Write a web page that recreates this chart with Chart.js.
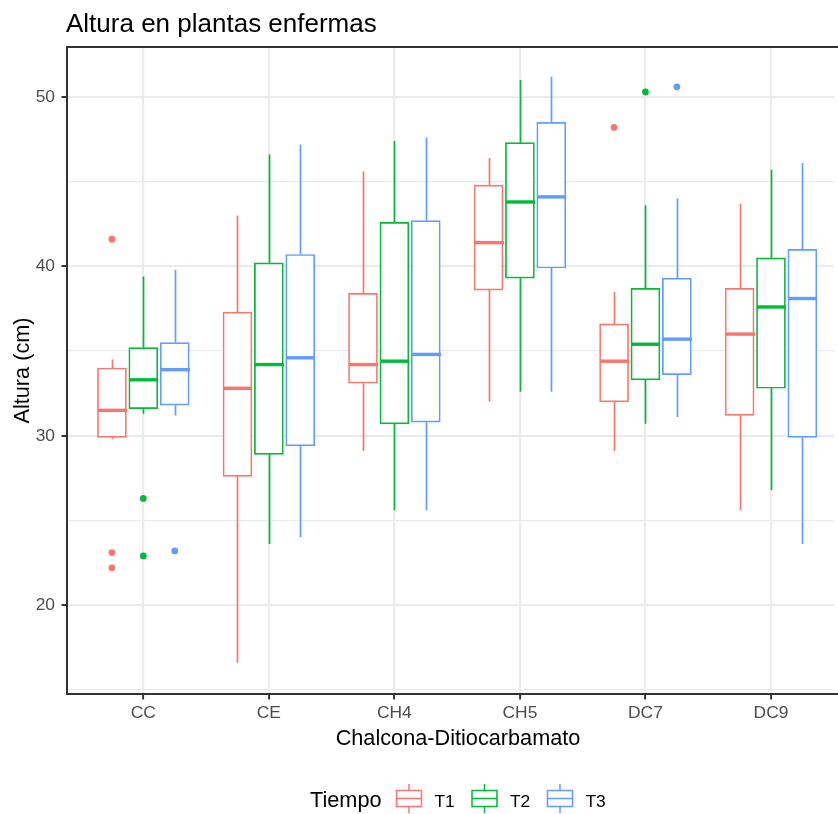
<!DOCTYPE html>
<html>
<head>
<meta charset="utf-8">
<script src="https://cdn.jsdelivr.net/npm/chart.js@4"></script>
<style>
html, body { margin: 0; padding: 0; background: #fff; overflow: hidden; }
canvas { display: block; }
</style>
</head>
<body>
<canvas id="myChart" width="838" height="814"></canvas>
<script>
/* Boxplot data */
const categories = ['CC', 'CE', 'CH4', 'CH5', 'DC7', 'DC9'];
const groups = ['T1', 'T2', 'T3'];
const groupColors = ['#F8766D', '#00BA38', '#619CFF'];

// [lower whisker, Q1, median, Q3, upper whisker] for each category
const t1Box = [
    [29.8, 29.9, 31.5, 34.0, 34.5],
    [16.6, 27.6, 32.8, 37.3, 43.0],
    [29.1, 33.1, 34.2, 38.4, 45.6],
    [32.0, 38.6, 41.4, 44.8, 46.4],
    [29.1, 32.0, 34.4, 36.6, 38.5],
    [25.6, 31.2, 36.0, 38.7, 43.7]
];
const t2Box = [
    [31.3, 31.6, 33.3, 35.2, 39.4],
    [23.6, 28.9, 34.2, 40.2, 46.6],
    [25.6, 30.7, 34.4, 42.6, 47.4],
    [32.6, 39.3, 43.8, 47.3, 51.0],
    [30.7, 33.3, 35.4, 38.7, 43.6],
    [26.8, 32.8, 37.6, 40.5, 45.7]
];
const t3Box = [
    [31.2, 31.8, 33.9, 35.5, 39.8],
    [24.0, 29.4, 34.6, 40.7, 47.2],
    [25.6, 30.8, 34.8, 42.7, 47.6],
    [32.6, 39.9, 44.1, 48.5, 51.2],
    [31.1, 33.6, 35.7, 39.3, 44.0],
    [23.6, 29.9, 38.1, 41.0, 46.1]
];

// outliers: [category, value]
const t1Outliers = [['CC', 41.6], ['CC', 23.1], ['CC', 22.2], ['DC7', 48.2]];
const t2Outliers = [['CC', 26.3], ['CC', 22.9], ['DC7', 50.3]];
const t3Outliers = [['CC', 23.2], ['DC7', 50.6]];

const yTicks = [15, 20, 25, 30, 35, 40, 45, 50];

const boxes = [t1Box, t2Box, t3Box];
const outliers = [t1Outliers, t2Outliers, t3Outliers];
const dodge = [-0.25, 0, 0.25];
const fontFamily = '"Liberation Sans", Arial, sans-serif';

const datasets = [];
groups.forEach((g, k) => {
    datasets.push({
        type: 'bar',
        label: g,
        data: boxes[k].map((r, i) => ({ x: i + 1 + dodge[k], y: [r[1], r[3]] })),
        backgroundColor: '#ffffff',
        borderColor: groupColors[k],
        borderWidth: 1.7,
        borderSkipped: false,
        barThickness: 29,
        grouped: false
    });
});
groups.forEach((g, k) => {
    datasets.push({
        type: 'scatter',
        label: g + ' outliers',
        data: outliers[k].map(o => ({ x: categories.indexOf(o[0]) + 1 + dodge[k], y: o[1] })),
        backgroundColor: groupColors[k],
        borderWidth: 0,
        pointRadius: 3.4
    });
});

// whiskers, medians, panel border, titles and legend
const boxExtras = {
    id: 'boxExtras',
    afterDatasetsDraw(chart) {
        const { ctx, chartArea, scales: { x, y } } = chart;
        ctx.save();
        boxes.forEach((rows, k) => {
            ctx.strokeStyle = groupColors[k];
            rows.forEach((r, i) => {
                const cx = Math.round(x.getPixelForValue(i + 1 + dodge[k])) + 0.5;
                ctx.lineWidth = 1.7;
                ctx.beginPath();
                ctx.moveTo(cx, y.getPixelForValue(r[0]));
                ctx.lineTo(cx, y.getPixelForValue(r[1]));
                ctx.moveTo(cx, y.getPixelForValue(r[3]));
                ctx.lineTo(cx, y.getPixelForValue(r[4]));
                ctx.stroke();
                ctx.lineWidth = 3.4;
                ctx.beginPath();
                ctx.moveTo(cx - 14.5, y.getPixelForValue(r[2]));
                ctx.lineTo(cx + 14.5, y.getPixelForValue(r[2]));
                ctx.stroke();
            });
        });
        ctx.strokeStyle = '#333333';
        ctx.lineWidth = 2;
        ctx.strokeRect(chartArea.left, chartArea.top, chartArea.right - chartArea.left + 20, chartArea.bottom - chartArea.top);
        ctx.restore();
    },
    afterDraw(chart) {
        const ctx = chart.ctx;
        ctx.save();
        ctx.fillStyle = '#000000';
        ctx.textBaseline = 'alphabetic';

        ctx.font = '26px ' + fontFamily;
        ctx.textAlign = 'left';
        ctx.fillText('Altura en plantas enfermas', 66, 32);

        ctx.font = '21.7px ' + fontFamily;
        ctx.textAlign = 'center';
        ctx.fillText('Chalcona-Ditiocarbamato', 458, 745);

        ctx.save();
        ctx.translate(29, 370.5);
        ctx.rotate(-Math.PI / 2);
        ctx.fillText('Altura (cm)', 0, 0);
        ctx.restore();

        // legend
        ctx.textAlign = 'left';
        ctx.fillText('Tiempo', 310, 806.5);
        ctx.font = '17.4px ' + fontFamily;
        groups.forEach((g, k) => {
            const kx = 396 + k * 75.5;
            ctx.strokeStyle = groupColors[k];
            ctx.lineWidth = 1.5;
            ctx.strokeRect(kx + 0.5, 790.5, 25, 16);
            ctx.beginPath();
            ctx.moveTo(kx + 0.5, 798.5);
            ctx.lineTo(kx + 25.5, 798.5);
            ctx.moveTo(kx + 13, 784);
            ctx.lineTo(kx + 13, 790.5);
            ctx.moveTo(kx + 13, 806.5);
            ctx.lineTo(kx + 13, 813);
            ctx.stroke();
            ctx.fillStyle = '#000000';
            ctx.fillText(g, kx + 38.5, 806.5);
        });
        ctx.restore();
    }
};

new Chart(document.getElementById('myChart'), {
    type: 'bar',
    data: { datasets: datasets },
    options: {
        responsive: false,
        animation: false,
        devicePixelRatio: 1,
        layout: { padding: { top: 47, left: 0, right: 0, bottom: 0 } },
        plugins: {
            legend: { display: false },
            title: { display: false },
            tooltip: { enabled: false }
        },
        scales: {
            x: {
                type: 'linear',
                min: 0.392,
                max: 6.502,
                offset: false,
                afterFit: (scale) => { scale.height = 120; },
                afterBuildTicks: (scale) => {
                    scale.ticks = categories.map((c, i) => ({ value: i + 1 }));
                },
                ticks: {
                    padding: 3,
                    color: '#4D4D4D',
                    font: { family: fontFamily, size: 17.4 },
                    callback: (v) => categories[v - 1]
                },
                grid: {
                    offset: false,
                    color: '#EBEBEB',
                    lineWidth: 2.2,
                    tickLength: 5.5,
                    tickColor: '#333333',
                    tickWidth: 2
                },
                border: { display: false }
            },
            y: {
                min: 14.75,
                max: 52.95,
                afterFit: (scale) => { scale.width = 67; },
                afterBuildTicks: (scale) => {
                    scale.ticks = yTicks.map(v => ({ value: v }));
                },
                ticks: {
                    padding: 6.5,
                    color: '#4D4D4D',
                    font: { family: fontFamily, size: 17.4 },
                    callback: (v) => (v % 10 === 0 ? String(v) : '')
                },
                grid: {
                    color: '#EBEBEB',
                    lineWidth: (c) => (c.tick && c.tick.value % 10 === 0 ? 2 : 1.2),
                    tickLength: 5.5,
                    tickColor: (c) => (c.tick && c.tick.value % 10 === 0 ? '#333333' : 'rgba(0,0,0,0)'),
                    tickWidth: 2
                },
                border: { display: false }
            }
        }
    },
    plugins: [boxExtras]
});
</script>
</body>
</html>
